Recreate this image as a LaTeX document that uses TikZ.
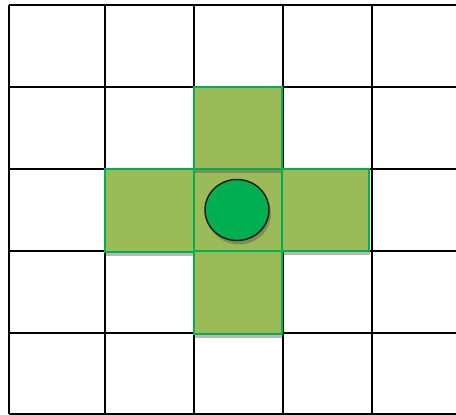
\documentclass[tikz,border=0pt]{standalone}
\usetikzlibrary{shadows,shapes.geometric}
\definecolor{olivegreen}{HTML}{9BBB59}
\definecolor{brightgreen}{HTML}{00B050}
\definecolor{darkedge}{HTML}{231F20}
\tikzset{
  gridline/.style={line width=2pt, black},
  cell/.style={fill=olivegreen, draw=brightgreen, line width=1.5pt,
    drop shadow={opacity=0.4, fill=black!70, shadow xshift=1pt, shadow yshift=-4pt}},
  token/.style={fill=brightgreen, draw=darkedge, line width=1.5pt,
    drop shadow={opacity=0.4, fill=black!70, shadow xshift=2pt, shadow yshift=-4pt}}
}
\begin{document}
\begin{tikzpicture}[x=1pt,y=-1pt]
\useasboundingbox (0,0) rectangle (456,415);
\fill[white] (0,0) rectangle (456,415);
% grid
\foreach \y in {5,87,169,251,333,414}
  \draw[gridline] (9,\y) -- (456,\y);
\foreach \x in {9,105,194,283,372}
  \draw[gridline] (\x,5) -- (\x,414);
% green cells
\path[cell] (194,169) rectangle (282,251);
\path[cell] (194,87) rectangle (282,169);
\path[cell] (105,169) rectangle (194,252);
\path[cell] (282,169) rectangle (369,251);
\path[cell] (194,251) rectangle (282,334);
\draw[brightgreen, line width=1.5pt] (194,169) rectangle (282,251);
% token
\node[token, ellipse, minimum width=64pt, minimum height=61pt, inner sep=0pt] (tok) at (237,210) {};
\end{tikzpicture}
\end{document}
